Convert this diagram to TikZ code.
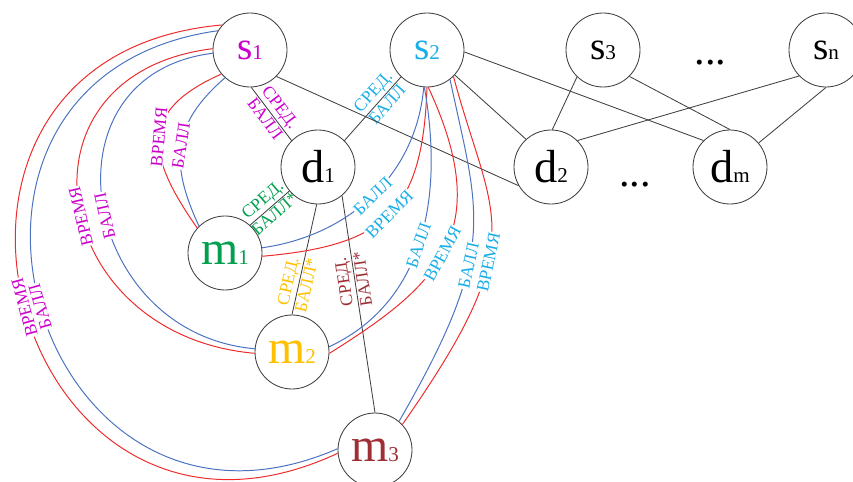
\documentclass[tikz,border=0pt]{standalone}
\usepackage{fontspec}
\setmainfont{Liberation Serif}
\usetikzlibrary{positioning}
\definecolor{Border}  {HTML}{404040}
\definecolor{EdgeRed} {HTML}{EE2A2A}
\definecolor{EdgeBlue}{HTML}{4A72C0}
\definecolor{AccS1}   {HTML}{CC00CC}
\definecolor{AccS2}   {HTML}{1AAEE8}
\definecolor{AccM1}   {HTML}{00A04E}
\definecolor{AccM2}   {HTML}{FFC000}
\definecolor{AccM3}   {HTML}{9E2F35}
\tikzset{
  vert/.style={circle, draw=Border, line width=0.6pt, fill=white,
               minimum size=1.85cm, inner sep=0pt},
  link/.style={draw=Border, line width=0.6pt},
  rline/.style={EdgeRed, line width=0.7pt},
  bline/.style={EdgeBlue, line width=0.7pt},
  lbl/.style={font=\fontsize{12.5}{13}\selectfont, sloped, inner sep=1pt},
  gaplbl/.style={lbl, allow upside down, fill=white, inner sep=0.6pt},
}
\begin{document}
\begin{tikzpicture}
  \useasboundingbox (0,0) rectangle (21.325,12.025);
  % ── Row 1: s nodes ──
  \node[vert, text=AccS1] (s1) at (6.25,10.775)
    {\fontsize{28}{28}\selectfont s\fontsize{15}{15}\selectfont 1};
  \node[vert, text=AccS2] (s2) at (10.675,10.775)
    {\fontsize{28}{28}\selectfont s\fontsize{15}{15}\selectfont 2};
  \node[vert] (s3) at (15.075,10.775)
    {\fontsize{28}{28}\selectfont s\fontsize{15}{15}\selectfont 3};
  \node[vert] (sn) at (20.65,10.775)
    {\fontsize{28}{28}\selectfont s\fontsize{15}{15}\selectfont n};
  \node (sdots) at (17.76,10.45) {\fontsize{30}{30}\selectfont ...};
  % ── Row 2: d nodes ──
  \node[vert] (d1) at (7.95,7.85)
    {\fontsize{33}{33}\selectfont d\fontsize{15}{15}\selectfont 1};
  \node[vert] (d2) at (13.775,7.85)
    {\fontsize{33}{33}\selectfont d\fontsize{15}{15}\selectfont 2};
  \node[vert] (dm) at (18.25,7.85)
    {\fontsize{33}{33}\selectfont d\fontsize{15}{15}\selectfont m};
  \node (ddots) at (15.875,7.4) {\fontsize{30}{30}\selectfont ...};
  % ── Row 3: m nodes ──
  \node[vert, text=AccM1] (m1) at (5.625,5.7)
    {\fontsize{34}{34}\selectfont m\fontsize{15}{15}\selectfont 1};
  \node[vert, text=AccM2] (m2) at (7.3,3.225)
    {\fontsize{34}{34}\selectfont m\fontsize{15}{15}\selectfont 2};
  \node[vert, text=AccM3] (m3) at (9.375,0.775)
    {\fontsize{34}{34}\selectfont m\fontsize{15}{15}\selectfont 3};

  % ── links s -- d ──
  \draw[link] (s1.272) -- (d1.135)
    node[lbl, pos=0.5, above, text=AccS1] {СРЕД.}
    node[lbl, pos=0.5, below, text=AccS1] {БАЛЛ};
  \draw[link] (d1.45) -- (s2.226)
    node[lbl, pos=0.65, above, text=AccS2] {СРЕД.}
    node[lbl, pos=0.65, below, text=AccS2] {БАЛЛ};
  \draw[link] (s1.-45) -- (d2.210);
  \draw[link] (s2.-42) -- (d2.132);
  \draw[link] (s2.-3) -- (dm.135);
  \draw[link] (s3.226) -- (d2.88);
  \draw[link] (s3.-45) -- (dm.90);
  \draw[link] (sn.224) -- (d2.45);
  \draw[link] (sn.270) -- (dm.40);
  % ── links d1 -- m ──
  \draw[link] (m1.48) -- (d1.220)
    node[lbl, pos=0.5, above, text=AccM1] {СРЕД.}
    node[lbl, pos=0.5, below, text=AccM1] {БАЛЛ*};
  \draw[link] (m2.90) -- (d1.268)
    node[lbl, pos=0.28, above, text=AccM2] {СРЕД.}
    node[lbl, pos=0.28, below, text=AccM2] {БАЛЛ*};
  \draw[link] (m3.90) -- (d1.-50)
    node[lbl, allow upside down, pos=0.61, above, text=AccM3] {СРЕД.}
    node[lbl, allow upside down, pos=0.61, below, text=AccM3] {БАЛЛ*};

  % ── arcs s1 -- m ──
  \draw[rline] (m1.138) .. controls +(125:2.25) and +(204:2.25) .. (s1.220)
    node[gaplbl, pos=0.5, text=AccS1] {ВРЕМЯ};
  \draw[bline] (m1.134) .. controls +(115:1.75) and +(221:1.75) .. (s1.228)
    node[gaplbl, pos=0.5, text=AccS1] {БАЛЛ};
  \draw[rline] (m2.182) .. controls +(175:5.2) and +(187:5.2) .. (s1.178)
    node[gaplbl, pos=0.47, text=AccS1] {ВРЕМЯ};
  \draw[bline] (m2.175) .. controls +(175:4.4) and +(187:4.4) .. (s1.185)
    node[gaplbl, pos=0.47, text=AccS1] {БАЛЛ};
  \draw[rline] (m3.185) .. controls +(205:8.95) and +(185:8.95) .. (s1.138)
    node[gaplbl, pos=0.5, text=AccS1] {ВРЕМЯ};
  \draw[bline] (m3.178) .. controls +(203.5:8.3) and +(188:8.3) .. (s1.149)
    node[gaplbl, pos=0.5, text=AccS1] {БАЛЛ};
  % ── arcs s2 -- m ──
  \draw[bline] (m1.8) .. controls +(8:2.2) and +(265:2.2) .. (s2.265)
    node[gaplbl, pos=0.5, text=AccS2] {БАЛЛ};
  \draw[rline] (m1.-5) .. controls +(5:3.1) and +(268:3.1) .. (s2.270)
    node[gaplbl, pos=0.5, text=AccS2] {ВРЕМЯ};
  \draw[bline] (m2.8) .. controls +(25:2.5) and +(-80:3) .. (s2.266)
    node[gaplbl, pos=0.5, text=AccS2] {БАЛЛ};
  \draw[rline] (m2.-2) .. controls +(32:3.2) and +(-65:4) .. (s2.272)
    node[gaplbl, pos=0.48, text=AccS2] {ВРЕМЯ};
  \draw[bline] (m3.50) .. controls +(60:5) and +(-78:3.5) .. (s2.-52)
    node[gaplbl, pos=0.4, text=AccS2] {БАЛЛ};
  \draw[rline] (m3.43) .. controls +(55:5.75) and +(-75:3.75) .. (s2.-45)
    node[gaplbl, pos=0.4, text=AccS2] {ВРЕМЯ};
\end{tikzpicture}
\end{document}
